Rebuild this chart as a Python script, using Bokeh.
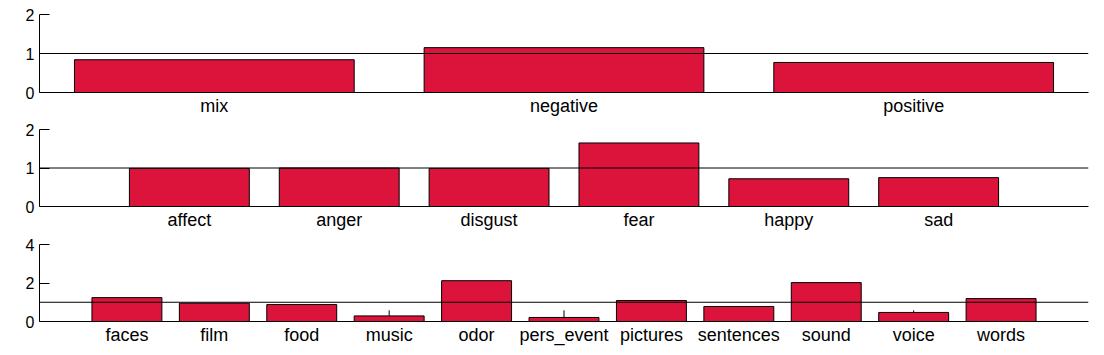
from bokeh.plotting import figure
from bokeh.models import Span, FixedTicker, Range1d, ColumnDataSource
from bokeh.layouts import column
from bokeh.embed import file_html
from bokeh.resources import INLINE

# ---- data ----
valence_cats = ["mix", "negative", "positive"]
valence_vals = [0.84, 1.15, 0.77]

emotion_cats = ["affect", "anger", "disgust", "fear", "happy", "sad"]
emotion_vals = [0.99, 1.00, 0.99, 1.65, 0.72, 0.75]

stim_cats = ["faces", "film", "food", "music", "odor", "pers_event",
             "pictures", "sentences", "sound", "voice", "words"]
stim_vals = [1.24, 0.95, 0.88, 0.29, 2.12, 0.21, 1.09, 0.78, 2.02, 0.47, 1.19]

whisker_cats = ["music", "pers_event", "voice"]
whisker_hi = [0.58, 0.58, 0.58]

FONT = "Liberation Sans"
BAR = "#DC143C"


def make_panel(cats, vals, x_start, x_end, y_max, y_ticks, height,
               border_top, border_bottom, whiskers=None):
    xs = [i + 1 for i in range(len(cats))]
    p = figure(width=1096, height=height, output_backend="svg",
               toolbar_location=None,
               x_range=Range1d(x_start, x_end), y_range=Range1d(0, y_max),
               min_border_left=39, min_border_right=8, min_border_top=border_top,
               min_border_bottom=border_bottom)
    p.outline_line_color = None
    p.xgrid.visible = False
    p.ygrid.visible = False
    src = ColumnDataSource(dict(x=xs, top=vals))
    p.vbar(x="x", top="top", width=0.8, source=src, fill_color=BAR,
           line_color="black", line_width=1)
    if whiskers:
        wc, wh = whiskers
        wx = [cats.index(c) + 1 for c in wc]
        wy = [vals[cats.index(c)] for c in wc]
        p.segment(x0=wx, y0=wy, x1=wx, y1=wh, line_color="black", line_width=1)
    p.add_layout(Span(location=1, dimension="width", line_color="black",
                      line_width=1))
    # x axis
    xa = p.xaxis[0]
    xa.ticker = FixedTicker(ticks=xs)
    xa.major_label_overrides = {x: c for x, c in zip(xs, cats)}
    xa.major_tick_in = 0
    xa.major_tick_out = 0
    xa.minor_tick_line_color = None
    xa.axis_line_color = "black"
    xa.major_label_text_font = FONT
    xa.major_label_text_font_size = "18px"
    xa.major_label_text_color = "black"
    xa.major_label_standoff = 3
    # y axis
    ya = p.yaxis[0]
    ya.ticker = FixedTicker(ticks=y_ticks)
    ya.major_tick_in = 10
    ya.major_tick_out = 0
    ya.minor_tick_line_color = None
    ya.axis_line_color = "black"
    ya.major_tick_line_color = "black"
    ya.major_label_text_font = FONT
    ya.major_label_text_font_size = "16px"
    ya.major_label_text_color = "black"
    ya.major_label_standoff = 5
    return p


p1 = make_panel(valence_cats, valence_vals, 0.5, 3.5, 2, [0, 1, 2], 119, 14, 27)
p2 = make_panel(emotion_cats, emotion_vals, 0, 7, 2, [0, 1, 2], 115, 10, 28)
p3 = make_panel(stim_cats, stim_vals, 0, 12, 4, [0, 2, 4], 117, 10, 30,
                whiskers=(whisker_cats, whisker_hi))

layout = column(p1, p2, p3, spacing=0)
open("out.html", "w").write(file_html(layout, INLINE))
